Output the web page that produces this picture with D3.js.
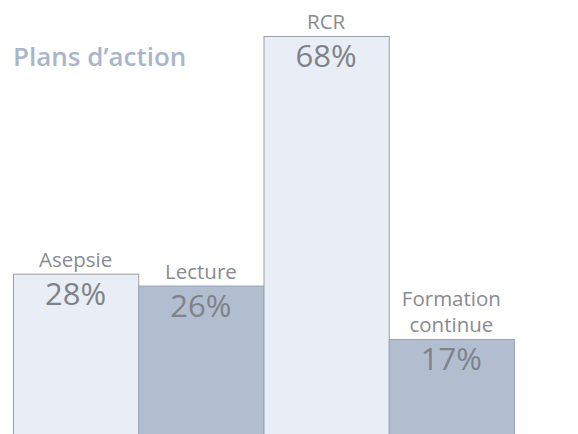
<!DOCTYPE html>
<html>
<head>
<meta charset="utf-8">
<script src="https://cdn.jsdelivr.net/npm/d3@7"></script>
<style>
  body { margin: 0; background: #fff; }
  svg { display: block; }
</style>
</head>
<body>
<div id="chart"></div>
<script>
// chart data
const categories = ["Asepsie", "Lecture", "RCR", "Formation continue"];
const labelLines = [["Asepsie"], ["Lecture"], ["RCR"], ["Formation", "continue"]];
const values = [28, 26, 68, 17];
const shades = ["light", "dark", "light", "dark"];

const width = 578;
const height = 434;
const marginLeft = 13;
const marginRight = 64;

const data = categories.map((c, i) => ({ name: c, lines: labelLines[i], value: values[i], shade: shades[i] }));

const x = d3.scaleBand()
    .domain(categories)
    .range([marginLeft, width - marginRight])
    .padding(0);

// baseline sits a little under the bottom edge
const y = d3.scaleLinear()
    .domain([0, 68])
    .range([440, 36]);

const svg = d3.select("#chart")
  .append("svg")
    .attr("width", width)
    .attr("height", height)
    .attr("viewBox", [0, 0, width, height]);

// title
svg.append("text")
    .attr("x", 13)
    .attr("y", 66)
    .attr("fill", "#a9b6ca")
    .attr("font-family", "'Open Sans', sans-serif")
    .attr("font-weight", 600)
    .attr("font-size", 26)
    .text("Plans d’action");

const bar = svg.selectAll(".bar")
  .data(data)
  .join("g")
    .attr("class", "bar");

bar.append("rect")
    .attr("x", d => x(d.name) + 0.5)
    .attr("y", d => y(d.value) + 0.5)
    .attr("width", x.bandwidth())
    .attr("height", d => y(0) - y(d.value))
    .attr("fill", d => d.shade === "light" ? "#e9eef6" : "#b2bed0")
    .attr("stroke", d => d.shade === "light" ? "#9c9fa4" : "#9aa6b8")
    .attr("stroke-width", 1);

// value text inside the bar
bar.append("text")
    .attr("x", d => x(d.name) + x.bandwidth() / 2)
    .attr("y", d => y(d.value) + 31)
    .attr("text-anchor", "middle")
    .attr("fill", "#7e838a")
    .attr("font-family", "'Open Sans', sans-serif")
    .attr("font-weight", 400)
    .attr("font-size", 31)
    .text(d => d.value + "%");

// category label above the bar
bar.append("text")
    .attr("text-anchor", "middle")
    .attr("fill", "#888b90")
    .attr("font-family", "'Open Sans', sans-serif")
    .attr("font-weight", 400)
    .attr("font-size", 20.5)
  .selectAll("tspan")
  .data(d => d.lines.map((l, i) => ({ l, i, n: d.lines.length, d })))
  .join("tspan")
    .attr("x", t => x(t.d.name) + x.bandwidth() / 2)
    .attr("y", t => y(t.d.value) - 7 - (t.n - 1 - t.i) * 26)
    .text(t => t.l);
</script>
</body>
</html>
